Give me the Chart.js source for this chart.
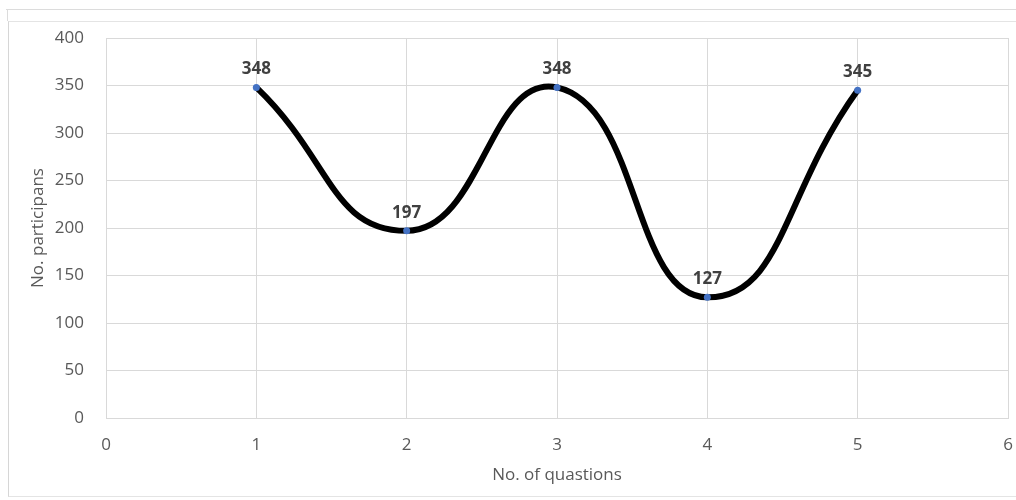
<!DOCTYPE html>
<html>
<head>
<meta charset="utf-8">
<script src="https://cdn.jsdelivr.net/npm/chart.js@4/dist/chart.umd.min.js"></script>
<style>
  html, body { margin: 0; padding: 0; background: #fff; }
  #wrap { position: relative; width: 1016px; height: 500px; overflow: hidden; }
  #frameOuter { position: absolute; left: 6px; top: 9px; width: 1020px; height: 0; border-top: 1px solid #dcdcdc; }
  #frameInner { position: absolute; left: 8px; top: 21px; width: 1020px; height: 474px;
                border-top: 1px solid #e4e4e4; border-left: 1px solid #d6d6d6; border-bottom: 1px solid #e4e4e4; }
  #frameLeft { position: absolute; left: 7px; top: 9px; width: 0; height: 12px; border-left: 1px solid #dcdcdc; }
  canvas { position: absolute; left: 0; top: 0; }
</style>
</head>
<body>
<div id="wrap">
  <div id="frameOuter"></div>
  <div id="frameLeft"></div>
  <div id="frameInner"></div>
  <canvas id="chart" width="1016" height="500"></canvas>
</div>
<script>
// Question number and how many participants answered it
const questions = [1, 2, 3, 4, 5];
const participants = [348, 197, 348, 127, 345];

const xTicks = [0, 1, 2, 3, 4, 5, 6];
const yTicks = [0, 50, 100, 150, 200, 250, 300, 350, 400];

const FONT = "'Open Sans', 'DejaVu Sans', sans-serif";
const GRID = '#d9d9d9';
const TEXT = '#595959';

// Writes each point's value above its marker
const valueLabels = {
  id: 'valueLabels',
  afterDatasetsDraw(chart) {
    const ctx = chart.ctx;
    const meta = chart.getDatasetMeta(0);
    ctx.save();
    ctx.font = `bold 17px ${FONT}`;
    ctx.fillStyle = '#404040';
    ctx.textAlign = 'center';
    ctx.textBaseline = 'middle';
    meta.data.forEach((pt, i) => {
      ctx.fillText(String(participants[i]), pt.x, pt.y - 18);
    });
    ctx.restore();
  }
};

// Frame around the plotting area
const plotBorder = {
  id: 'plotBorder',
  beforeDatasetsDraw(chart) {
    const { ctx, chartArea: a } = chart;
    ctx.save();
    ctx.strokeStyle = GRID;
    ctx.lineWidth = 1;
    ctx.strokeRect(Math.round(a.left) + 0.5, Math.round(a.top) + 0.5,
                   Math.round(a.right - a.left), Math.round(a.bottom - a.top));
    ctx.restore();
  }
};

new Chart(document.getElementById('chart'), {
  type: 'line',
  data: {
    datasets: [{
      data: questions.map((q, i) => ({ x: q, y: participants[i] })),
      borderColor: '#000000',
      borderWidth: 6,
      tension: 0.5,
      pointRadius: 3.5,
      pointBackgroundColor: '#4472C4',
      pointBorderColor: '#4472C4',
      pointBorderWidth: 0,
      clip: false
    }]
  },
  options: {
    responsive: false,
    animation: false,
    devicePixelRatio: 1,
    layout: { padding: { left: 0, top: 38, right: 8, bottom: 0 } },
    plugins: { legend: { display: false }, tooltip: { enabled: false } },
    scales: {
      x: {
        type: 'linear',
        min: 0, max: 6,
        afterBuildTicks: s => { s.ticks = xTicks.map(v => ({ value: v })); },
        afterFit: s => { s.height = 82; s.paddingLeft = 0; s.paddingRight = 0; },
        grid: { color: GRID, drawTicks: false },
        border: { display: false },
        ticks: { color: TEXT, font: { family: FONT, size: 17 }, padding: 17, maxRotation: 0 },
        title: { display: true, text: 'No. of quastions', color: TEXT,
                 font: { family: FONT, size: 17 }, padding: { top: 0, bottom: 15 } }
      },
      y: {
        type: 'linear',
        min: 0, max: 400,
        afterBuildTicks: s => { s.ticks = yTicks.map(v => ({ value: v })); },
        afterFit: s => { s.width = 106; s.paddingTop = 0; s.paddingBottom = 0; },
        grid: { color: GRID, drawTicks: false },
        border: { display: false },
        ticks: { color: TEXT, font: { family: FONT, size: 17 }, padding: 22 },
        title: { display: true, text: 'No. participans', color: TEXT,
                 font: { family: FONT, size: 17 }, padding: { top: 28, bottom: 0 } }
      }
    }
  },
  plugins: [plotBorder, valueLabels]
});
</script>
</body>
</html>
